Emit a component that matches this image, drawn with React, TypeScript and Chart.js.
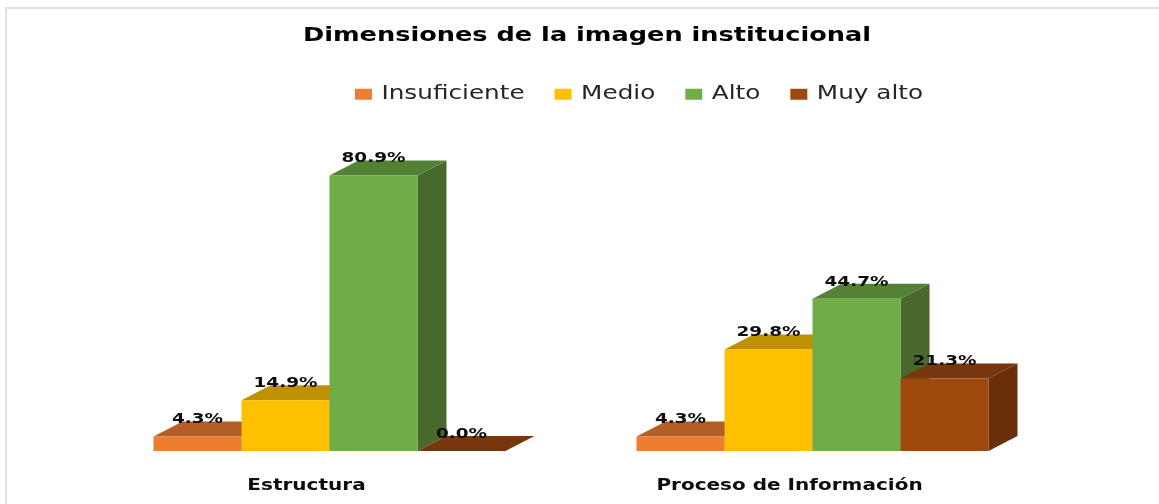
import React, { useEffect, useRef } from "react";
import { Chart, registerables } from "chart.js";

Chart.register(...registerables);

const categories = ["Estructura", "Proceso de Información"];
const seriesNames = ["Insuficiente", "Medio", "Alto", "Muy alto"];
const insuficiente = [4.3, 4.3];
const medio = [14.9, 29.8];
const alto = [80.9, 44.7];
const muyAlto = [0.0, 21.3];
const seriesValues = [insuficiente, medio, alto, muyAlto];
const frontColors = ["#ED7D31", "#FFC000", "#70AD47", "#9E480E"];
const topColors = ["#B25E25", "#BF9000", "#548235", "#77360B"];
const sideColors = ["#8E4B1D", "#997300", "#48692B", "#682F09"];
const DEPTH_X = 29;
const DEPTH_Y = 15;
const TEXT_STRETCH = 1.3;
const FONT = "'DejaVu Sans'";

// The reference is stretched horizontally: widen every text the same way.
const stretchPlugin = {
  id: "stretch",
  beforeInit(chart: any) {
    const ctx = chart.ctx;
    const fill = ctx.fillText.bind(ctx);
    const measure = ctx.measureText.bind(ctx);
    ctx.fillText = (text: string, x: number, y: number) => {
      ctx.save();
      ctx.translate(x, y);
      ctx.scale(TEXT_STRETCH, 1);
      fill(text, 0, 0);
      ctx.restore();
    };
    ctx.measureText = (text: string) => ({ width: measure(text).width * TEXT_STRETCH });
  },
};

const shiftPlugin = {
  id: "shift",
  afterLayout(chart: any) {
    const t = chart.titleBlock;
    if (t) { t.left += 16; t.right += 16; }
    const l = chart.legend;
    if (l) { l.left += 68; l.right += 68; }
  },
};

const depthPlugin = {
  id: "depth",
  beforeDatasetsDraw(chart: any) {
    const ctx = chart.ctx;
    const base = chart.scales.y.getPixelForValue(0);
    // Back to front: each bar's side and top, then its front face.
    chart.data.datasets.forEach((_: any, i: number) => {
      const meta = chart.getDatasetMeta(i);
      ctx.save();
      meta.data.forEach((bar: any) => {
        const l = bar.x - bar.width / 2;
        const r = bar.x + bar.width / 2;
        const top = bar.y;
        ctx.fillStyle = sideColors[i];
        ctx.beginPath();
        ctx.moveTo(r, top);
        ctx.lineTo(r + DEPTH_X, top - DEPTH_Y);
        ctx.lineTo(r + DEPTH_X, base - DEPTH_Y);
        ctx.lineTo(r, base);
        ctx.closePath();
        ctx.fill();
        ctx.fillStyle = topColors[i];
        ctx.beginPath();
        ctx.moveTo(l, top);
        ctx.lineTo(l + DEPTH_X, top - DEPTH_Y);
        ctx.lineTo(r + DEPTH_X, top - DEPTH_Y);
        ctx.lineTo(r, top);
        ctx.closePath();
        ctx.fill();
        bar.draw(ctx);
      });
      ctx.restore();
    });
    return false;
  },
};

const labelPlugin = {
  id: "valueLabels",
  afterDraw(chart: any) {
    const ctx = chart.ctx;
    ctx.save();
    ctx.font = `bold 14.2px ${FONT}`;
    ctx.fillStyle = "#0d0d0d";
    ctx.textAlign = "center";
    ctx.textBaseline = "middle";
    chart.data.datasets.forEach((ds: any, i: number) => {
      chart.getDatasetMeta(i).data.forEach((bar: any, j: number) => {
        ctx.fillText(`${ds.data[j].toFixed(1)}%`, bar.x, bar.y - 17);
      });
    });
    ctx.restore();
  },
};

const framePlugin = {
  id: "frame",
  beforeDraw(chart: any) {
    const ctx = chart.ctx;
    ctx.save();
    ctx.strokeStyle = "#E0E0E0";
    ctx.lineWidth = 2;
    ctx.beginPath();
    ctx.moveTo(6, 504);
    ctx.lineTo(6, 8);
    ctx.lineTo(1159, 8);
    ctx.stroke();
    ctx.restore();
  },
};

export default function App() {
  const ref = useRef<HTMLCanvasElement>(null);
  useEffect(() => {
    const chart = new Chart(ref.current as HTMLCanvasElement, {
      type: "bar",
      data: {
        labels: categories,
        datasets: seriesNames.map((name, i) => ({
          label: name,
          data: seriesValues[i],
          backgroundColor: frontColors[i],
          borderWidth: 0,
          categoryPercentage: 0.7288,
          barPercentage: 1,
        })),
      },
      options: {
        responsive: false,
        animation: false,
        layout: { padding: { left: 88, right: 105, top: 0, bottom: -17.5 } },
        scales: {
          x: {
            grid: { display: false, tickLength: 0 },
            border: { display: false },
            ticks: {
              color: "#0d0d0d",
              font: { family: FONT, size: 15.4, weight: "bold" },
              padding: 26,
              labelOffset: -23,
              maxRotation: 0,
              autoSkip: false,
            },
          },
          y: { display: false, min: 0, max: 99.1 },
        },
        plugins: {
          title: {
            display: true,
            text: "Dimensiones de la imagen institucional",
            color: "#000000",
            font: { family: FONT, size: 19.7, weight: "bold" },
            padding: { top: 24, bottom: 7 },
          },
          legend: {
            position: "top",
            labels: {
              boxWidth: 17,
              boxHeight: 11,
              padding: 30,
              color: "#262626",
              font: { family: FONT, size: 19 },
            },
          },
          tooltip: { enabled: false },
        },
      },
      plugins: [stretchPlugin, framePlugin, shiftPlugin, depthPlugin, labelPlugin],
    } as any);
    return () => chart.destroy();
  }, []);
  return (
    <canvas
      ref={ref}
      width={1159}
      height={504}
      style={{ position: "absolute", left: 0, top: 0, display: "block" }}
    />
  );
}
